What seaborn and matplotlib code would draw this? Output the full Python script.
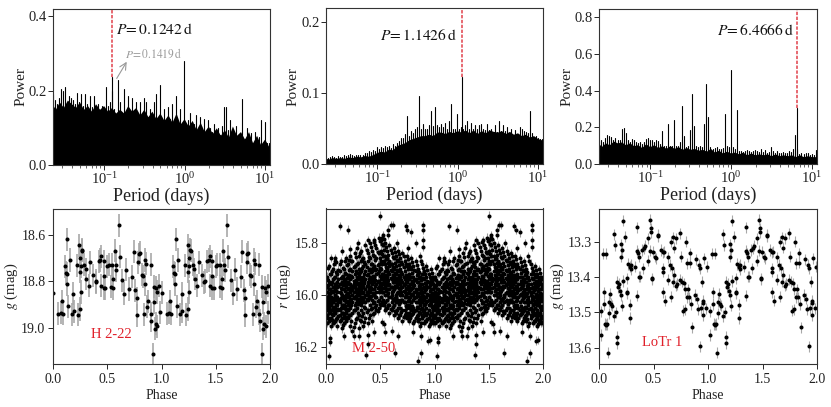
import matplotlib
matplotlib.use('Agg')
import matplotlib.pyplot as plt
import numpy as np
import pandas as pd
import seaborn as sns

# Periodogram sampling (days), shared by the three top panels
period_grid = [
    .0234, .0248, .0263, .0278, .0295, .0312, .0331, .0350, .0371, .0393,
    .0416, .0441, .0467, .0494, .0524, .0555, .0587, .0622, .0659, .0698,
    .0740, .0783, .0830, .0879, .0931, .0986, .1045, .1107, .1172, .1242,
    .1315, .1393, .1476, .1563, .1656, .1754, .1858, .1968, .2084, .2208,
    .2339, .2477, .2624, .2780, .2944, .3119, .3304, .3499, .3707, .3926,
    .4159, .4406, .4667, .4943, .5236, .5546, .5875, .6223, .6592, .6982,
    .7396, .7834, .8299, .8790, .9311, .9863, 1.045, 1.107, 1.172, 1.242,
    1.315, 1.393, 1.476, 1.563, 1.656, 1.754, 1.858, 1.968, 2.084, 2.208,
    2.339, 2.477, 2.624, 2.780, 2.944, 3.119, 3.304, 3.499, 3.707, 3.926,
    4.159, 4.406, 4.667, 4.943, 5.236, 5.546, 5.875, 6.223, 6.592, 6.982,
    7.396, 7.834, 8.299, 8.790, 9.311, 9.863, 10.45, 11.07,
]

h222_peaks = [
    .19, .175, .165, .18, .205, .2, .21, .17, .185, .18,
    .175, .165, .195, .17, .19, .16, .19, .165, .185, .155,
    .185, .14, .165, .145, .16, .15, .21, .16, .17, .2,
    .15, .135, .23, .17, .14, .205, .14, .185, .13, .18,
    .13, .17, .13, .17, .125, .18, .17, .125, .15, .14,
    .17, .19, .13, .215, .12, .15, .12, .155, .125, .165,
    .12, .185, .115, .15, .11, .28, .11, .12, .14, .1,
    .11, .135, .1, .13, .09, .125, .085, .12, .1, .09,
    .11, .085, .1, .08, .105, .155, .155, .095, .12, .075,
    .09, .105, .075, .085, .178, .07, .1, .07, .085, .05,
    .09, .055, .075, .12, .06, .115, .06, .06,
]
m250_peaks = [
    .01, .009, .01, .011, .01, .009, .011, .01, .01, .012,
    .011, .012, .014, .012, .011, .012, .013, .012, .013, .015,
    .016, .018, .017, .02, .019, .024, .021, .024, .023, .026,
    .024, .025, .023, .028, .026, .03, .032, .036, .036, .042,
    .067, .04, .046, .044, .05, .052, .096, .05, .056, .05,
    .05, .055, .075, .054, .081, .055, .052, .056, .052, .058,
    .05, .06, .084, .05, .05, .07, .05, .052, .05, .055,
    .061, .05, .058, .05, .055, .05, .055, .056, .05, .048,
    .056, .048, .05, .045, .055, .045, .061, .046, .055, .047,
    .052, .042, .05, .04, .048, .042, .052, .05, .046, .045,
    .044, .075, .044, .036, .04, .036, .035, .035,
]
lotr1_peaks = [
    .125, .13, .12, .14, .16, .15, .145, .13, .14, .13,
    .13, .19, .195, .17, .13, .12, .135, .13, .12, .115,
    .12, .11, .12, .135, .14, .13, .13, .12, .13, .125,
    .11, .18, .1, .1, .22, .1, .1, .24, .1, .1,
    .12, .315, .15, .09, .1, .185, .38, .205, .1, .09,
    .1, .09, .22, .435, .255, .09, .08, .085, .09, .08,
    .08, .085, .275, .1, .095, .515, .09, .08, .295, .07,
    .07, .065, .07, .075, .07, .065, .07, .075, .07, .065,
    .08, .065, .075, .06, .065, .095, .07, .06, .07, .06,
    .06, .065, .06, .06, .07, .065, .08, .16, .08, .055,
    .06, .055, .06, .06, .05, .055, .05, .075,
]

# Solid jagged part under the spikes, read between the grid periods
floor_period = [0.0233] + period_grid[1::2] + [11.5]
h222_floor = [
    .16, .15, .17, .155, .175, .165, .155, .17, .15, .16,
    .145, .165, .15, .16, .145, .155, .14, .15, .14, .16,
    .145, .155, .135, .15, .13, .145, .125, .14, .12, .135,
    .115, .14, .11, .125, .105, .12, .095, .115, .09, .105,
    .085, .1, .08, .095, .075, .105, .08, .09, .07, .09,
    .06, .08, .055, .07, .05, .06,
]
m250_floor = [
    .008, .007, .009, .008, .009, .008, .01, .009, .011, .01,
    .012, .011, .013, .016, .018, .017, .021, .02, .026, .028,
    .03, .034, .036, .038, .04, .04, .042, .04, .045, .045,
    .043, .046, .044, .047, .045, .048, .044, .048, .043, .047,
    .044, .048, .046, .045, .047, .043, .046, .042, .044, .04,
    .042, .038, .04, .036, .034, .032,
]
lotr1_floor = [
    .11, .095, .115, .105, .125, .115, .12, .105, .115, .1,
    .105, .09, .11, .095, .105, .09, .1, .085, .1, .085,
    .095, .08, .09, .08, .085, .075, .08, .07, .085, .065,
    .075, .06, .07, .06, .065, .055, .065, .05, .06, .05,
    .055, .05, .055, .045, .055, .045, .05, .045, .05, .04,
    .05, .04, .045, .04, .04, .05,
]

best_periods = [0.1242, 1.1426, 6.4666]
best_powers = [0.238, 0.123, 0.305]

# H 2-22 light curve
h222_phase = [
    .0, .05, .07, .08, .09, .11, .117, .125, .125, .13, .14, .155, .175, .187,
    .19, .218, .23, .243, .245, .245, .25, .255, .255, .265, .27, .29, .3, .305,
    .33, .345, .37, .395, .4, .42, .435, .445, .447, .466, .466, .47, .48, .5,
    .515, .535, .54, .555, .555, .57, .58, .585, .605, .615, .64, .655, .675,
    .7, .73, .745, .76, .77, .77, .785, .79, .8, .82, .825, .84, .85, .85, .86,
    .87, .88, .9, .9, .905, .925, .93, .935, .94, .945, .953, .96, .96, .98, .985,
]
h222_mag = [
    18.85, 18.94, 18.937, 18.887, 18.94, 18.736, 18.765, 18.77, 18.814, 18.62,
    18.908, 18.71, 18.943, 18.854, 18.93, 18.733, 18.945, 18.646, 18.76, 18.92,
    18.7, 18.847, 18.736, 18.665, 18.67, 18.73, 18.75, 18.79, 18.82, 18.72,
    18.775, 18.805, 18.8, 18.715, 18.71, 18.693, 18.82, 18.78, 18.83, 18.715,
    18.83, 18.736, 18.73, 18.825, 18.73, 18.83, 18.79, 18.67, 18.73, 18.753,
    18.56, 18.696, 18.797, 18.854, 18.752, 18.834, 18.782, 18.673, 18.84, 18.875,
    18.947, 18.72, 18.685, 18.678, 18.773, 18.78, 18.943, 18.71, 18.814, 18.725,
    18.91, 18.887, 18.73, 18.94, 18.97, 19.115, 18.825, 18.89, 19.005, 18.983,
    18.83, 18.847, 18.995, 18.82, 18.935,
]

# M 2-50 light curve: columns in phase through the dense band, then stragglers
m250_column_phase = [
    .005, .025, .043, .065, .084, .104, .126, .144, .165, .184,
    .205, .223, .244, .266, .284, .305, .323, .345, .364, .385,
    .404, .426, .444, .465, .484, .505, .524, .545, .565, .584,
    .604, .625, .644, .665, .684, .705, .726, .744, .764, .785,
    .804, .825, .845, .864, .885, .905, .924, .945, .965, .985,
]
m250_column_mag = [
    [15.93, 15.97, 15.99, 16.01, 16.02, 16.04, 16.06, 16.08, 16.11],
    [15.89, 15.95, 15.98, 16.00, 16.03, 16.05, 16.07, 16.10, 16.06],
    [15.86, 15.92, 15.96, 15.99, 16.01, 16.04, 16.06, 16.09, 16.12],
    [15.90, 15.94, 15.97, 16.02, 16.03, 16.05, 16.08, 16.11, 15.99],
    [15.87, 15.93, 15.96, 15.98, 16.00, 16.02, 16.05, 16.07, 16.10],
    [15.92, 15.95, 15.97, 16.01, 16.04, 16.06, 16.09, 16.12, 15.99],
    [15.88, 15.91, 15.96, 15.99, 16.02, 16.03, 16.06, 16.08, 16.10],
    [15.93, 15.95, 15.98, 16.00, 16.01, 16.04, 16.07, 16.09, 16.13],
    [15.90, 15.94, 15.96, 15.98, 16.02, 16.04, 16.05, 16.08, 16.11],
    [15.86, 15.92, 15.95, 15.97, 16.00, 16.03, 16.06, 16.07, 16.10],
    [15.88, 15.93, 15.95, 15.98, 16.00, 16.01, 16.04, 16.06, 16.09],
    [15.85, 15.90, 15.94, 15.96, 15.99, 16.02, 16.05, 16.08, 16.12],
    [15.87, 15.91, 15.93, 15.97, 15.98, 16.00, 16.03, 16.07, 16.14],
    [15.84, 15.89, 15.92, 15.95, 15.97, 16.01, 16.04, 16.06, 16.11],
    [15.82, 15.88, 15.93, 15.96, 15.99, 16.00, 16.02, 16.05, 16.09],
    [15.85, 15.90, 15.92, 15.94, 15.97, 16.00, 16.03, 16.08, 16.13],
    [15.83, 15.87, 15.91, 15.95, 15.98, 16.01, 16.04, 16.06, 16.10],
    [15.86, 15.89, 15.93, 15.96, 15.97, 15.99, 16.02, 16.07, 16.12],
    [15.81, 15.88, 15.91, 15.94, 15.98, 16.00, 16.03, 16.05, 16.09],
    [15.84, 15.87, 15.92, 15.95, 15.96, 16.00, 16.02, 16.06, 16.11],
    [15.80, 15.86, 15.90, 15.93, 15.97, 15.99, 16.01, 16.04, 16.08],
    [15.83, 15.88, 15.91, 15.94, 15.96, 15.98, 16.02, 16.05, 16.10],
    [15.79, 15.85, 15.89, 15.93, 15.95, 15.98, 16.00, 16.03, 16.07],
    [15.82, 15.86, 15.90, 15.92, 15.96, 15.99, 16.01, 16.04, 16.06],
    [15.78, 15.84, 15.88, 15.91, 15.95, 15.97, 15.99, 16.02, 16.05],
    [15.79, 15.83, 15.87, 15.90, 15.94, 15.97, 15.98, 16.01, 16.04],
    [15.77, 15.81, 15.85, 15.92, 15.93, 15.96, 15.99, 16.02, 16.03],
    [15.80, 15.85, 15.88, 15.91, 15.94, 15.97, 16.00, 16.03, 16.06],
    [15.83, 15.86, 15.90, 15.93, 15.95, 15.98, 16.00, 16.02, 16.05],
    [15.81, 15.87, 15.89, 15.92, 15.96, 15.98, 16.01, 16.04, 16.07],
    [15.84, 15.88, 15.91, 15.94, 15.97, 15.99, 16.00, 16.03, 16.06],
    [15.82, 15.86, 15.90, 15.93, 15.95, 15.98, 16.02, 16.04, 16.08],
    [15.85, 15.89, 15.92, 15.95, 15.97, 16.00, 16.01, 16.03, 16.07],
    [15.83, 15.87, 15.91, 15.94, 15.96, 15.99, 16.02, 16.05, 16.09],
    [15.86, 15.90, 15.93, 15.96, 15.98, 16.00, 16.03, 16.05, 16.08],
    [15.84, 15.88, 15.92, 15.95, 15.97, 16.00, 16.02, 16.06, 16.10],
    [15.87, 15.91, 15.94, 15.96, 15.99, 16.01, 16.03, 16.06, 16.08],
    [15.85, 15.89, 15.93, 15.95, 15.98, 16.01, 16.04, 16.05, 16.09],
    [15.88, 15.92, 15.94, 15.97, 15.99, 16.02, 16.04, 16.07, 16.10],
    [15.86, 15.90, 15.93, 15.96, 15.98, 16.00, 16.03, 16.06, 16.08],
    [15.89, 15.93, 15.95, 15.97, 16.00, 16.02, 16.05, 16.07, 16.11],
    [15.87, 15.91, 15.94, 15.98, 15.99, 16.01, 16.03, 16.06, 16.09],
    [15.90, 15.92, 15.95, 15.98, 16.00, 16.03, 16.05, 16.08, 16.10],
    [15.85, 15.93, 15.96, 15.97, 16.01, 16.02, 16.04, 16.07, 16.12],
    [15.88, 15.92, 15.96, 15.99, 16.00, 16.03, 16.05, 16.08, 16.09],
    [15.91, 15.94, 15.97, 15.99, 16.02, 16.04, 16.06, 16.07, 16.11],
    [15.89, 15.93, 15.96, 15.98, 16.01, 16.03, 16.05, 16.08, 16.10],
    [15.92, 15.95, 15.97, 16.00, 16.02, 16.04, 16.06, 16.09, 16.12],
    [15.90, 15.94, 15.98, 16.00, 16.03, 16.04, 16.07, 16.08, 16.10],
    [15.93, 15.96, 15.98, 16.01, 16.02, 16.05, 16.06, 16.09, 16.11],
]
# Second pass through the band, between the columns above
m250_core_phase = [
    .014, .034, .055, .074, .095, .114, .134, .155, .175, .195,
    .214, .235, .254, .275, .295, .314, .335, .354, .375, .395,
    .415, .434, .455, .475, .494, .515, .534, .555, .574, .595,
    .615, .634, .655, .675, .694, .715, .735, .755, .774, .795,
    .814, .835, .855, .874, .895, .915, .934, .955, .975, .995,
]
m250_core_mag = [
    [15.944, 15.963, 16.007, 16.033, 16.051, 16.088, 15.898],
    [15.921, 15.979, 15.992, 16.021, 16.068, 16.093, 16.041],
    [15.908, 15.952, 16.014, 16.027, 15.984, 16.073, 16.098],
    [15.882, 15.936, 15.971, 16.012, 16.046, 16.063, 16.104],
    [15.914, 15.958, 15.987, 16.009, 16.036, 16.092, 15.875],
    [15.903, 15.941, 15.968, 16.018, 16.029, 16.083, 16.057],
    [15.935, 15.974, 15.995, 16.011, 16.052, 15.869, 16.096],
    [15.896, 15.927, 15.964, 16.006, 16.039, 16.072, 16.115],
    [15.918, 15.949, 15.986, 16.013, 16.044, 16.091, 15.872],
    [15.884, 15.937, 15.959, 15.992, 16.024, 16.054, 16.087],
    [15.906, 15.924, 15.973, 16.004, 16.028, 16.078, 15.865],
    [15.871, 15.928, 15.966, 15.983, 16.017, 16.041, 16.103],
    [15.893, 15.946, 15.957, 15.991, 16.012, 16.058, 16.124],
    [15.856, 15.907, 15.942, 15.978, 16.006, 16.033, 16.094],
    [15.879, 15.916, 15.954, 15.981, 16.016, 16.037, 16.071],
    [15.838, 15.911, 15.932, 15.963, 15.989, 16.022, 16.097],
    [15.861, 15.899, 15.941, 15.972, 15.994, 16.027, 16.082],
    [15.874, 15.921, 15.947, 15.956, 16.008, 16.047, 16.106],
    [15.826, 15.895, 15.923, 15.968, 15.989, 16.016, 16.068],
    [15.853, 15.904, 15.938, 15.971, 15.983, 16.012, 16.089],
    [15.817, 15.882, 15.913, 15.952, 15.976, 16.006, 16.056],
    [15.846, 15.897, 15.928, 15.948, 15.993, 16.031, 16.074],
    [15.809, 15.868, 15.906, 15.943, 15.967, 16.009, 16.048],
    [15.836, 15.884, 15.915, 15.946, 15.974, 16.023, 16.062],
    [15.795, 15.857, 15.898, 15.929, 15.962, 15.984, 16.036],
    [15.803, 15.844, 15.881, 15.919, 15.955, 15.988, 16.029],
    [15.786, 15.829, 15.872, 15.934, 15.947, 15.976, 16.041],
    [15.815, 15.863, 15.892, 15.926, 15.959, 15.987, 16.051],
    [15.848, 15.879, 15.912, 15.944, 15.964, 15.993, 16.038],
    [15.828, 15.881, 15.904, 15.937, 15.972, 16.007, 16.054],
    [15.855, 15.893, 15.924, 15.953, 15.984, 16.017, 16.046],
    [15.834, 15.877, 15.916, 15.945, 15.968, 16.011, 16.063],
    [15.867, 15.903, 15.936, 15.961, 15.992, 16.024, 16.059],
    [15.842, 15.886, 15.926, 15.952, 15.975, 16.034, 16.077],
    [15.873, 15.912, 15.944, 15.971, 15.991, 16.019, 16.067],
    [15.851, 15.894, 15.933, 15.962, 15.986, 16.028, 16.086],
    [15.881, 15.923, 15.953, 15.974, 16.003, 16.044, 16.072],
    [15.864, 15.901, 15.941, 15.966, 15.994, 16.026, 16.079],
    [15.892, 15.931, 15.958, 15.983, 16.008, 16.053, 16.091],
    [15.876, 15.917, 15.947, 15.973, 15.997, 16.042, 16.073],
    [15.904, 15.942, 15.964, 15.988, 16.013, 16.061, 16.101],
    [15.885, 15.926, 15.951, 15.992, 16.006, 16.047, 16.084],
    [15.913, 15.935, 15.967, 15.994, 16.021, 16.066, 16.093],
    [15.869, 15.943, 15.976, 15.985, 16.027, 16.056, 16.108],
    [15.897, 15.934, 15.973, 16.005, 16.018, 16.064, 16.083],
    [15.922, 15.956, 15.982, 16.007, 16.035, 16.076, 16.102],
    [15.905, 15.947, 15.971, 15.996, 16.025, 16.069, 16.094],
    [15.931, 15.962, 15.985, 16.014, 16.037, 16.078, 16.112],
    [15.915, 15.953, 15.992, 16.016, 16.048, 16.071, 16.097],
    [15.939, 15.971, 15.997, 16.023, 16.043, 16.081, 16.105],
]
m250_stray_phase = [
    .5, .13, .205, .025, .034, .034, .37, .386, .386, .168, .254, .3, .447, .52,
    .536, .545, .606, .637, .665, .805, .851, .876, .876, .937, .958, .575, .575,
    .597, .613, .735, .75, .784, .83, .897, .897, .897, .897, .386, .294, .438,
    .52, .76, .652, .144, .086, .224,
]
m250_stray_mag = [
    15.695, 15.736, 15.749, 16.237, 16.168, 16.183, 16.232, 16.155, 16.19, 16.159,
    16.16, 16.16, 16.142, 16.104, 16.113, 16.142, 16.138, 16.223, 16.159, 16.142,
    16.254, 16.159, 16.226, 16.177, 16.174, 15.749, 15.769, 15.732, 15.731, 15.736,
    15.752, 15.76, 15.8, 15.731, 15.752, 15.79, 15.815, 15.79, 15.8, 15.797,
    15.78, 15.82, 15.8, 15.83, 15.86, 15.825,
]

# LoTr 1 light curve
lotr1_phase = [
    .015, .02, .037, .046, .05, .055, .06, .068, .077, .083, .09, .092, .1, .107,
    .117, .135, .141, .15, .153, .163, .166, .169, .175, .184, .19, .2, .205, .205,
    .209, .215, .218, .224, .24, .255, .26, .26, .27, .28, .285, .285, .29, .29,
    .33, .347, .353, .347, .36, .368, .377, .368, .39, .4, .414, .423, .445, .454,
    .466, .475, .48, .47, .485, .488, .494, .512, .525, .537, .543, .567, .583,
    .583, .59, .59, .598, .61, .629, .635, .65, .66, .66, .666, .675, .68, .69,
    .69, .705, .708, .72, .745, .745, .752, .76, .77, .776, .79, .79, .798, .807,
    .807, .82, .828, .834, .837, .84, .855, .89, .883, .9, .905, .92, .923, .926,
    .94, .945, .95, .954, .957, .966, .98, .988,
]
lotr1_mag = [
    13.564, 13.497, 13.333, 13.476, 13.443, 13.533, 13.333, 13.535, 13.533, 13.615,
    13.469, 13.502, 13.447, 13.476, 13.481, 13.51, 13.277, 13.308, 13.5, 13.57,
    13.588, 13.412, 13.428, 13.419, 13.44, 13.45, 13.306, 13.341, 13.322, 13.481,
    13.41, 13.238, 13.284, 13.443, 13.445, 13.403, 13.362, 13.369, 13.478, 13.516,
    13.365, 13.377, 13.369, 13.257, 13.452, 13.324, 13.331, 13.398, 13.398, 13.341,
    13.322, 13.374, 13.317, 13.31, 13.289, 13.352, 13.236, 13.26, 13.272, 13.324,
    13.403, 13.405, 13.327, 13.341, 13.346, 13.282, 13.279, 13.322, 13.329, 13.443,
    13.374, 13.384, 13.327, 13.467, 13.343, 13.407, 13.365, 13.455, 13.298, 13.374,
    13.412, 13.286, 13.393, 13.315, 13.424, 13.289, 13.419, 13.274, 13.407, 13.341,
    13.412, 13.495, 13.417, 13.491, 13.434, 13.298, 13.36, 13.457, 13.434, 13.457,
    13.331, 13.358, 13.476, 13.542, 13.348, 13.45, 13.461, 13.491, 13.365, 13.597,
    13.374, 13.488, 13.412, 13.466, 13.507, 13.474, 13.346, 13.488, 13.369,
]

m250_phase = ([p for p, col in zip(m250_column_phase, m250_column_mag) for _ in col]
              + [p for p, col in zip(m250_core_phase, m250_core_mag) for _ in col]
              + m250_stray_phase)
m250_mag = ([m for col in m250_column_mag for m in col]
            + [m for col in m250_core_mag for m in col]
            + m250_stray_mag)

sns.set_theme(style='ticks')
plt.rcParams['font.family'] = ['Liberation Serif', 'DejaVu Serif']
plt.rcParams['mathtext.fontset'] = 'stix'
plt.rcParams['axes.edgecolor'] = '#333333'
plt.rcParams['axes.linewidth'] = 0.8

W, H = 831, 407
fig = plt.figure(figsize=(W / 100, H / 100), dpi=100)


def add_axes(left, right, top, bottom):
    return fig.add_axes([left / W, 1 - bottom / H, (right - left) / W, (bottom - top) / H])


def periodogram(box, peaks, floor_y, best_p, best_y, ylim, yticks):
    ax = add_axes(*box)
    ax.set_xscale('log')
    comb = pd.DataFrame({
        'period': np.repeat(period_grid + [best_p], 2),
        'power': np.column_stack([np.zeros(len(peaks) + 1), peaks + [best_y]]).ravel(),
        'peak': np.repeat(np.arange(len(peaks) + 1), 2),
    })
    ax.fill_between(floor_period, 0, floor_y, color='black', lw=0)
    sns.lineplot(data=comb, x='period', y='power', units='peak', estimator=None,
                 color='black', lw=0.8, ax=ax)
    ax.vlines(best_p, best_y, ylim[1], color='#e0404a', lw=1.1, ls=(0, (2.2, 1)))
    ax.set_xlim(0.0232, 11.5)
    ax.set_ylim(*ylim)
    ax.set_yticks(yticks)
    ax.set_xlabel('Period (days)', fontsize=13, labelpad=0.5, color='#222222')
    ax.set_ylabel('Power', fontsize=11, labelpad=1, color='#222222')
    ax.tick_params(labelsize=10.5, length=3.5, width=0.7, pad=1, labelcolor='#222222')
    ax.tick_params(which='minor', length=2, width=0.5)
    return ax


def light_curve(box, phase, mag, err, ylim, yticks, ylabel, name, name_xy, bar_color, bar_lw):
    ax = add_axes(*box)
    x = np.concatenate([phase, np.array(phase) + 1])
    y = np.concatenate([mag, mag])
    ax.errorbar(x, y, yerr=err, fmt='none', ecolor=bar_color, elinewidth=bar_lw, zorder=1)
    sns.scatterplot(x=x, y=y, color='black', s=8.5, linewidth=0, ax=ax, zorder=2)
    ax.set_xlim(0, 2)
    ax.set_ylim(*ylim)
    ax.set_xticks([0, 0.5, 1, 1.5, 2])
    ax.set_xticklabels(['0.0', '0.5', '1.0', '1.5', '2.0'])
    ax.set_yticks(yticks)
    ax.set_yticklabels([f'{t:.1f}' for t in yticks])
    ax.set_xlabel('Phase', fontsize=10, labelpad=2, color='#222222')
    ax.set_ylabel(ylabel, fontsize=10.5, labelpad=1, color='#222222')
    ax.tick_params(labelsize=10, length=3.5, width=0.7, pad=3, labelcolor='#222222')
    ax.tick_params(axis='y', pad=2)
    fig.text(name_xy[0] / W, 1 - name_xy[1] / H, name, color='#e0202a', fontsize=10.5,
             ha='left', va='center')
    return ax


ax1 = periodogram((53, 270, 9, 165), h222_peaks, h222_floor,
                  best_periods[0], best_powers[0], (0, 0.42), [0, 0.2, 0.4])
ax2 = periodogram((326, 543, 8, 164), m250_peaks, m250_floor,
                  best_periods[1], best_powers[1], (0, 0.22), [0, 0.1, 0.2])
ax3 = periodogram((599, 817, 9, 164), lotr1_peaks, lotr1_floor,
                  best_periods[2], best_powers[2], (0, 0.845), [0, 0.2, 0.4, 0.6, 0.8])

fig.text(116 / W, 1 - 30 / H, r'$P\!=0.1242\,\mathrm{d}$', fontsize=11.2, va='center', color='#111111')
fig.text(125 / W, 1 - 54 / H, r'$P\!=0.1419\,\mathrm{d}$', fontsize=8.3, va='center', color='#999999')
fig.text(380 / W, 1 - 36 / H, r'$P\!=1.1426\,\mathrm{d}$', fontsize=11.2, va='center', color='#111111')
fig.text(717 / W, 1 - 31 / H, r'$P\!=6.4666\,\mathrm{d}$', fontsize=11.2, va='center', color='#111111')
ax1.annotate('', xy=(0.191, 0.278), xytext=(0.1435, 0.233),
             arrowprops=dict(arrowstyle='->', color='#999999', lw=0.8, shrinkA=0, shrinkB=0))

light_curve((53, 270, 208.5, 364), h222_phase, h222_mag, 0.05, (19.157, 18.488),
            [18.6, 18.8, 19.0], r'$g$ (mag)', 'H 2-22', (91, 334), '#a8a8a8', 1.2)
light_curve((326, 543, 208.5, 364), m250_phase, m250_mag, 0.016, (16.267, 15.668),
            [15.8, 16.0, 16.2], r'$r$ (mag)', 'M 2-50', (352, 349), '#999999', 0.8)
light_curve((599, 817, 209, 364), lotr1_phase, lotr1_mag, 0.016, (13.647, 13.205),
            [13.3, 13.4, 13.5, 13.6], r'$g$ (mag)', 'LoTr 1', (642, 343), '#a8a8a8', 0.8)

fig.savefig('out.png', dpi=100)
